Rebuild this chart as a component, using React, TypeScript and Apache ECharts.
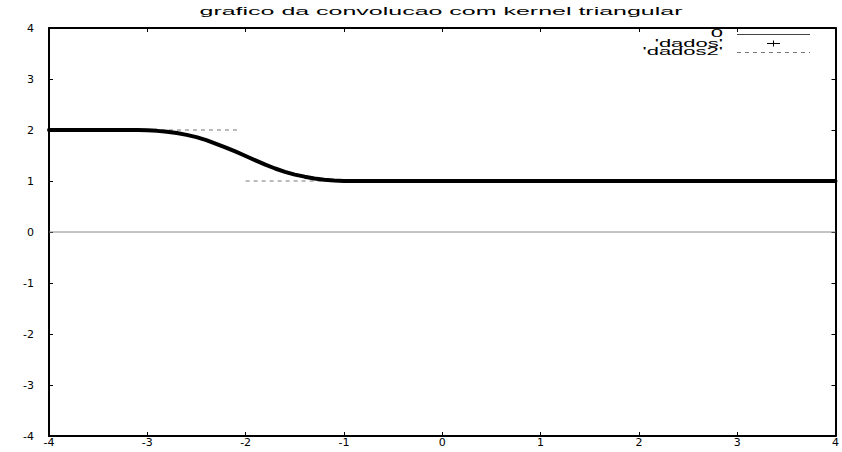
import React, { useEffect, useRef } from "react";
import * as echarts from "echarts";

const TITLE = "grafico da convolucao com kernel triangular";
const LEGEND_NAMES = ["0", "'dados'", "'dados2'"];

const X_MIN = -4;
const X_MAX = 4;
const Y_MIN = -4;
const Y_MAX = 4;
const TICK_STEP = 1;

const zeroX = [-4, 4];
const zeroY = [0, 0];

const dadosX = [-4, -3.6, -3.3, -3.2, -3.1, -3.0, -2.9, -2.8, -2.7, -2.6, -2.5, -2.4, -2.3, -2.2, -2.1, -2.0, -1.9, -1.8, -1.7, -1.6, -1.5, -1.4, -1.3, -1.2, -1.1, -1.0, -0.9, 0, 1, 2, 3, 4];
const dadosY = [2, 2, 2, 2, 1.998, 1.993, 1.983, 1.965, 1.94, 1.905, 1.86, 1.8, 1.73, 1.655, 1.575, 1.49, 1.405, 1.32, 1.245, 1.18, 1.125, 1.085, 1.05, 1.025, 1.01, 1.0, 1, 1, 1, 1, 1, 1];

const dados2X = [-4, -2.05, -2.02, -2.0, 4];
const dados2Y: (number | null)[] = [2, 2, null, 1, 1];

const pairs = (xs: number[], ys: (number | null)[]) =>
  xs.map((x, i) => [x, ys[i] === null ? "-" : ys[i]]);

export default function App() {
  const ref = useRef<HTMLDivElement>(null);

  useEffect(() => {
    if (!ref.current) return;
    const chart = echarts.init(ref.current, undefined, { renderer: "svg" });

    const axisLine = { show: true, onZero: false, lineStyle: { color: "#000", width: 2 } };
    const axisTick = { show: true, inside: true, length: 4, lineStyle: { color: "#000", width: 1 } };
    const labelStyle = { color: "#000", fontSize: 11, fontFamily: "DejaVu Sans" };

    const textFont = "Liberation Sans";

    chart.setOption({
      animation: false,
      backgroundColor: "#fff",
      grid: { left: 49, right: 1, top: 28, bottom: 16, containLabel: false },
      xAxis: [
        {
          type: "value", min: X_MIN, max: X_MAX, interval: TICK_STEP, position: "bottom",
          axisLine, axisTick, splitLine: { show: false },
          axisLabel: { ...labelStyle, margin: 1 },
        },
        {
          type: "value", min: X_MIN, max: X_MAX, interval: TICK_STEP, position: "top",
          axisLine, axisTick, splitLine: { show: false }, axisLabel: { show: false },
        },
      ],
      yAxis: [
        {
          type: "value", min: Y_MIN, max: Y_MAX, interval: TICK_STEP, position: "left",
          axisLine, axisTick, splitLine: { show: false },
          axisLabel: { ...labelStyle, margin: 15 },
        },
        {
          type: "value", min: Y_MIN, max: Y_MAX, interval: TICK_STEP, position: "right",
          axisLine, axisTick, splitLine: { show: false }, axisLabel: { show: false },
        },
      ],
      series: [
        {
          name: LEGEND_NAMES[0], type: "line", xAxisIndex: 0, yAxisIndex: 0,
          data: pairs(zeroX, zeroY), symbol: "none", silent: true, z: 1,
          lineStyle: { color: "#888", width: 1 },
        },
        {
          name: LEGEND_NAMES[2], type: "line", xAxisIndex: 0, yAxisIndex: 0,
          data: pairs(dados2X, dados2Y), symbol: "none", silent: true, z: 2,
          connectNulls: false,
          lineStyle: { color: "#777", width: 1, type: [4, 4] },
        },
        {
          name: LEGEND_NAMES[1], type: "line", xAxisIndex: 0, yAxisIndex: 0,
          data: pairs(dadosX, dadosY), symbol: "none", silent: true, z: 3,
          lineStyle: { color: "#000", width: 4, join: "round", cap: "round" },
        },
      ],
      graphic: [
        {
          type: "text", x: 441, y: 12, scaleX: 2.5, silent: true,
          style: { text: TITLE, fontSize: 10, fontFamily: textFont, fill: "#000", textAlign: "center", textVerticalAlign: "middle" },
        },
        {
          type: "text", x: 723, y: 34, scaleX: 2.2, silent: true,
          style: { text: LEGEND_NAMES[0], fontSize: 10, fontFamily: textFont, fill: "#000", textAlign: "right", textVerticalAlign: "middle" },
        },
        {
          type: "text", x: 723, y: 43.5, scaleX: 2.2, silent: true,
          style: { text: LEGEND_NAMES[1], fontSize: 10, fontFamily: textFont, fill: "#000", textAlign: "right", textVerticalAlign: "middle" },
        },
        {
          type: "text", x: 723, y: 52, scaleX: 2.2, silent: true,
          style: { text: LEGEND_NAMES[2], fontSize: 10, fontFamily: textFont, fill: "#000", textAlign: "right", textVerticalAlign: "middle" },
        },
        {
          type: "line", silent: true,
          shape: { x1: 737, y1: 34.5, x2: 810, y2: 34.5 },
          style: { stroke: "#444", lineWidth: 1 },
        },
        {
          type: "line", silent: true,
          shape: { x1: 767, y1: 43.5, x2: 780, y2: 43.5 },
          style: { stroke: "#000", lineWidth: 1 },
        },
        {
          type: "line", silent: true,
          shape: { x1: 773.5, y1: 40.5, x2: 773.5, y2: 46.5 },
          style: { stroke: "#000", lineWidth: 1 },
        },
        {
          type: "line", silent: true,
          shape: { x1: 737, y1: 52.5, x2: 810, y2: 52.5 },
          style: { stroke: "#777", lineWidth: 1, lineDash: [4, 4] },
        },
      ],
    });

    return () => chart.dispose();
  }, []);

  return (
    <div
      ref={ref}
      style={{ position: "absolute", left: 0, top: 0, width: 842, height: 452 }}
    />
  );
}
